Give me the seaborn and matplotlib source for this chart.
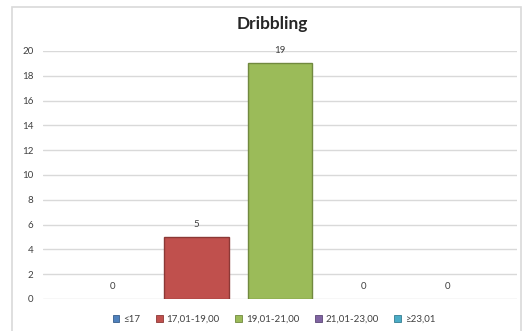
import matplotlib
matplotlib.use("Agg")
import matplotlib.pyplot as plt
import seaborn as sns
import pandas as pd
from matplotlib.patches import Rectangle, Patch

# Data
categories = ["≤17", "17,01-19,00", "19,01-21,00", "21,01-23,00", "≥23,01"]
counts = [0, 5, 19, 0, 0]
colors = ["#4F81BD", "#C0504D", "#9BBB59", "#8064A2", "#4BACC6"]
edge_colors = ["#385D8A", "#8C3836", "#71893F", "#5C4776", "#357D91"]
y_ticks = [0, 2, 4, 6, 8, 10, 12, 14, 16, 18, 20]

sns.set_theme(style="white")
plt.rcParams["font.family"] = ["Lato", "DejaVu Sans"]

df = pd.DataFrame({"group": categories, "count": counts})

fig = plt.figure(figsize=(5.24, 3.31), dpi=100)
ax = fig.add_axes([43 / 524, 32 / 331, (517 - 43) / 524, (299 - 51) / 331])

sns.barplot(data=df, x="group", y="count", hue="group", palette=colors,
            order=categories, hue_order=categories, dodge=False, saturation=1,
            width=0.77, legend=False, ax=ax, zorder=3)

for patch, ec in zip(ax.patches, edge_colors):
    patch.set_edgecolor(ec)
    patch.set_linewidth(1.0 if patch.get_height() > 0 else 0)

ax.set_ylim(0, 20)
ax.set_xlim(-0.837, 4.833)
ax.set_yticks(y_ticks)
ax.set_yticklabels([str(t) for t in y_ticks], fontsize=7, color="#404040")
ax.tick_params(axis="y", length=0, pad=7)
ax.set_xticks([])
ax.set_xlabel("")
ax.set_ylabel("")
for s in ax.spines.values():
    s.set_visible(False)
ax.yaxis.grid(True, color="#D9D9D9", linewidth=1.0, zorder=0)
ax.set_axisbelow(True)

# Value labels above each bar
for i, v in enumerate(counts):
    ax.annotate(str(v), xy=(i, v), xytext=(0, 9), textcoords="offset points",
                ha="center", va="center", fontsize=7, color="#404040")

# Title
fig.text(272 / 524, 1 - 24 / 331, "Dribbling", ha="center", va="center",
         fontsize=12.5, fontweight="bold", color="#262626")

# Legend below the plot
handles = [Patch(facecolor=c, edgecolor=e, linewidth=0.6, label=l)
           for c, e, l in zip(colors, edge_colors, categories)]
fig.legend(handles=handles, loc="center", bbox_to_anchor=(274 / 524, 1 - 319 / 331),
           ncol=5, frameon=False, fontsize=7, handlelength=0.7, handleheight=0.7,
           handletextpad=0.4, columnspacing=1.6, labelcolor="#404040")

# Chart area border
fig.patches.append(Rectangle((12 / 524, -0.02), (521 - 12) / 524, 1 - 7 / 331 + 0.02,
                             transform=fig.transFigure, fill=False,
                             edgecolor="#D9D9D9", linewidth=1.2))

fig.savefig("out.png", dpi=100)
